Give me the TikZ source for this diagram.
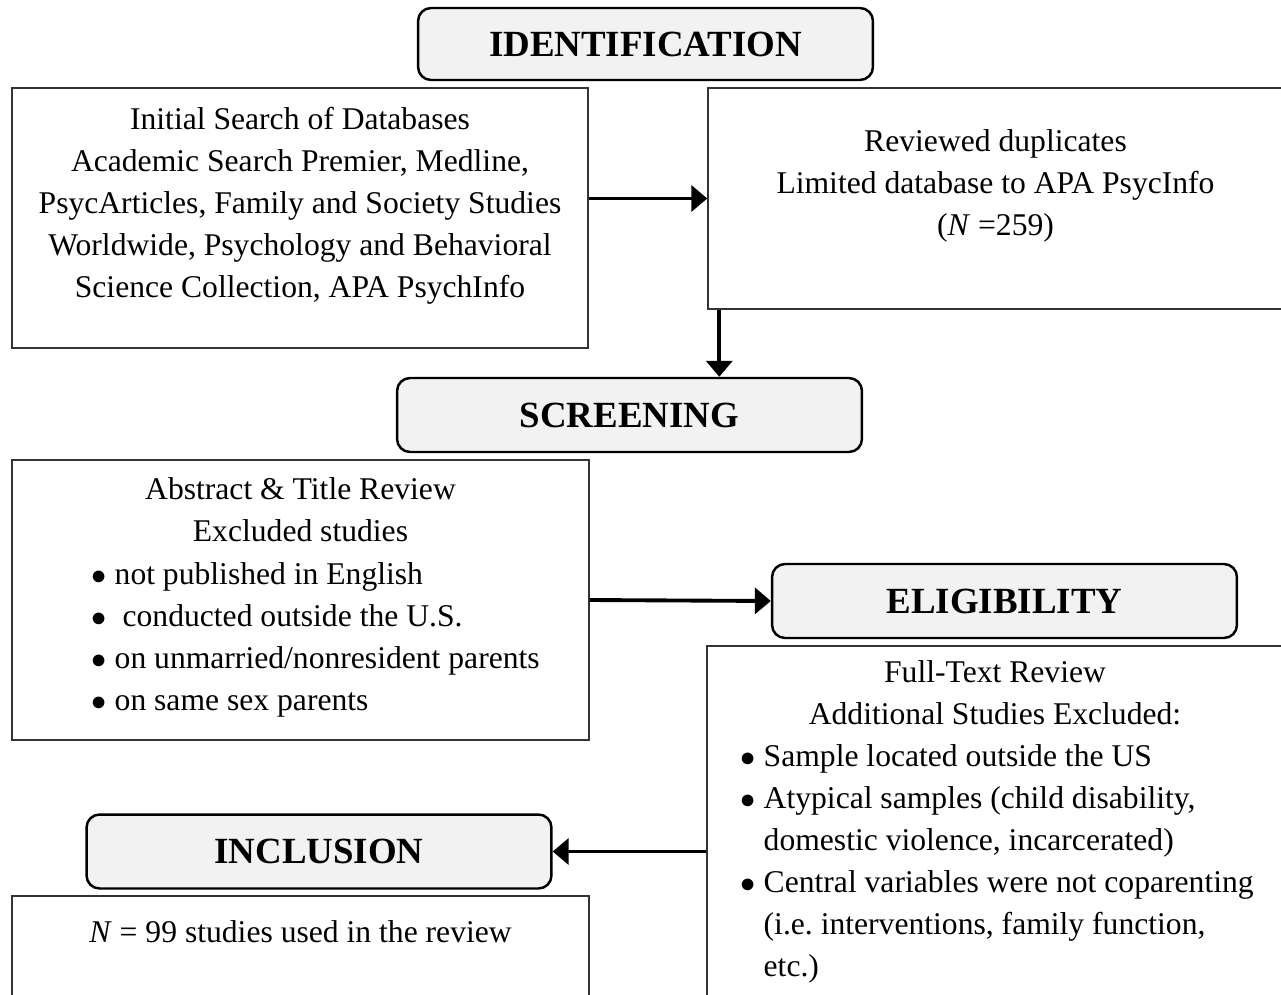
\documentclass[tikz,border=0pt]{standalone}
\usepackage{fontspec}
\setmainfont{Liberation Serif}
\usepackage{tikz}
\usetikzlibrary{positioning,arrows.meta}

\newcommand{\itembul}{$\bullet$\ }

\begin{document}
\begin{tikzpicture}[x=0.02cm, y=-0.02cm]
  \tikzset{stage/.style = {shape=rectangle, draw, line width=1.4pt, rounded corners=0.26cm, fill=gray!10,
                           minimum width=9.3cm, minimum height=1.48cm, inner sep=0pt,
                           font=\fontsize{21}{25}\selectfont\bfseries}}
  \tikzset{panel/.style = {shape=rectangle, draw=black!80, line width=0.9pt, inner sep=0pt}}
  \tikzset{txt/.style = {inner sep=0pt, align=center, font=\fontsize{18}{23.9}\selectfont}}
  \tikzset{lst/.style = {txt, align=left}}
  \tikzset{flow/.style = {line width=2.2pt, -{Triangle[length=0.32cm,width=0.52cm]}}}

  \path[use as bounding box, clip] (0,0) rectangle (1281,994);

  % boxes
  \node[panel, minimum width=11.52cm, minimum height=5.2cm]  (search)   at (300,218)     {};
  \node[panel, minimum width=11.5cm,  minimum height=4.42cm] (review)   at (995.5,198.5) {};
  \node[panel, minimum width=11.54cm, minimum height=5.6cm]  (abstract) at (300.5,600)   {};
  \node[panel, minimum width=11.52cm, minimum height=7.28cm] (full)     at (995,828)     {};
  \node[panel, minimum width=11.54cm, minimum height=2.28cm] (result)   at (300.5,953)   {};

  % stages
  \node[stage, minimum width=9.1cm, minimum height=1.44cm] (ident) at (645.5,44) {IDENTIFICATION};
  \node[stage] (screen) at (629.5,415)   {SCREENING};
  \node[stage] (elig)   at (1004.5,601)  {ELIGIBILITY};
  \node[stage] (incl)   at (319,851.5)   {INCLUSION};

  % texts
  \node[txt, anchor=north] (search-txt) [below=0.4cm of search.north]
    {Initial Search of Databases\\Academic Search Premier, Medline,\\PsycArticles, Family and Society Studies\\Worldwide, Psychology and Behavioral\\Science Collection, APA PsychInfo};
  \node[txt, anchor=north] (review-txt) [below=0.84cm of review.north]
    {Reviewed duplicates\\Limited database to APA PsycInfo\\(\textit{N} =259)};
  \node[txt, anchor=north] (abs-head) [below=0.36cm of abstract.north]
    {Abstract \& Title Review\\Excluded studies};
  \node[lst] (abs-list) [below right=2.06cm and 1.6cm of abstract.north west]
    {\itembul not published in English\\\itembul\ conducted outside the U.S.\\\itembul on unmarried/nonresident parents\\\itembul on same sex parents};
  \node[txt, anchor=north] (full-head) [below=0.3cm of full.north]
    {Full-Text Review\\Additional Studies Excluded:};
  \node[lst] (full-list) [below right=1.98cm and 0.68cm of full.north west]
    {\itembul Sample located outside the US\\\itembul Atypical samples (child disability,\\\phantom{\itembul}domestic violence, incarcerated)\\\itembul Central variables were not coparenting\\\phantom{\itembul}(i.e.\ interventions, family function,\\\phantom{\itembul}etc.)};
  \node[txt, anchor=north] (result-txt) [below=0.5cm of result.north]
    {\textit{N} = 99 studies used in the review};

  % arrows
  \coordinate (drop) at ([xshift=0.24cm]review.south west);
  \draw[flow] (search.east |- review.west) -- (review.west);
  \draw[flow] (drop) -- (drop |- screen.north);
  \draw[flow] (abstract.east) -- (elig.west);
  \draw[flow] (full.west |- incl.east) -- (incl.east);
\end{tikzpicture}
\end{document}
